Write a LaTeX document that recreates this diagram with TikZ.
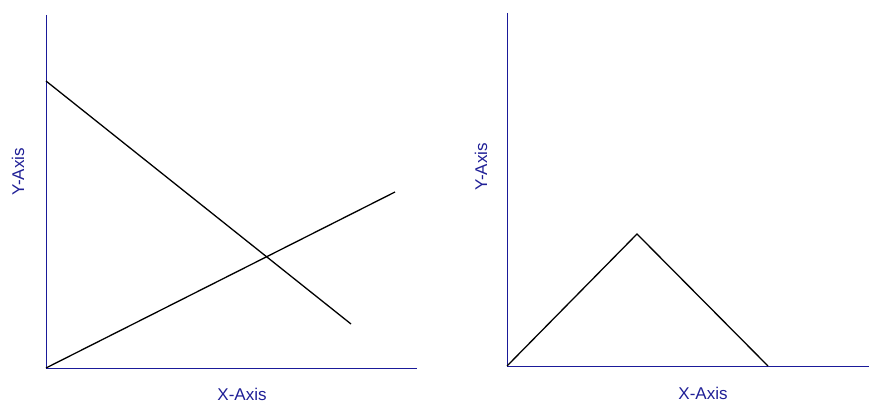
\documentclass[tikz,border=0pt]{standalone}
\usepackage{fontspec}
\setmainfont{Liberation Sans}
\usepackage{tikz}
\usetikzlibrary{positioning}
\definecolor{axis}{HTML}{1A1A99}
\definecolor{axtext}{HTML}{1F1F96}

\begin{document}
\begin{tikzpicture}[x=1pt,y=-1pt,
  axline/.style={line width=0.9pt, axis},
  curve/.style={line width=1.3pt, black, line join=miter},
  axlabel/.style={font=\fontsize{17}{20}\selectfont, text=axtext, inner sep=0pt}]
  \useasboundingbox (0,0) rectangle (869,403);

  % Left plot: axes
  \coordinate (lo) at (46,368);
  \draw[axline] (46,15) -- (lo) -- (417,368);
  \node[axlabel] (lx) at (242,394.5) {X-Axis};
  \node[axlabel, rotate=90] (ly) at (18,172) {Y-Axis};

  % Left plot: two crossing lines
  \draw[curve] (46,81) -- (351,324);
  \draw[curve] (lo) -- (395,192);

  % Right plot: axes
  \coordinate (ro) at (507,366);
  \draw[axline] (507,13) -- (ro) -- (869,366);
  \node[axlabel] (rx) at (703,393.5) {X-Axis};
  \node[axlabel, rotate=90] (ry) at (481,167) {Y-Axis};

  % Right plot: triangle
  \draw[curve] (ro) -- (637,234) -- (768,366);
\end{tikzpicture}
\end{document}
